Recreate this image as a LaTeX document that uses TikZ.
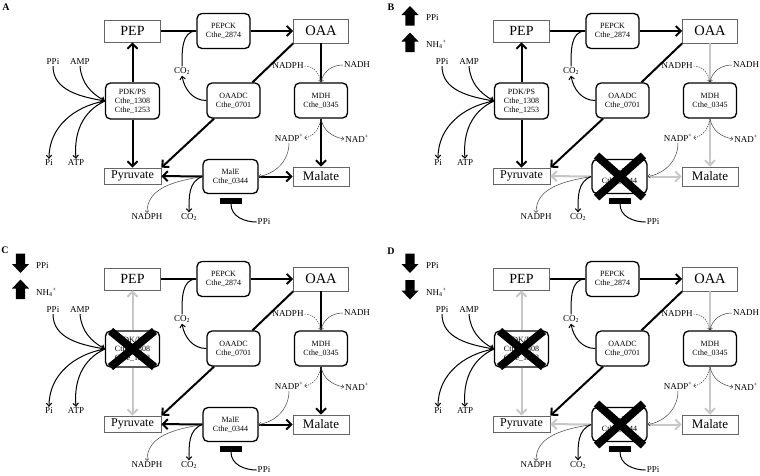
\documentclass[tikz,border=0pt]{standalone}
\usepackage{fontspec}
\setmainfont{Liberation Serif}
\usetikzlibrary{arrows.meta}

\tikzset{
  met/.style={draw=black!60, line width=0.7pt, inner sep=0pt, minimum width=56pt},
  enz/.style={draw, rounded corners=5pt, line width=1.3pt, align=center, inner sep=0pt,
    minimum width=53pt, minimum height=35pt, font=\fontsize{8}{9}\selectfont},
  lbl/.style={inner sep=1pt, font=\fontsize{9}{10}\selectfont},
  route/.style={line width=2pt, draw=#1},
  route/.default=black,
  flux/.style={route=#1, -{Straight Barb[length=5pt,width=10pt]}},
  flux/.default=black,
  side/.style={line width=1pt, -{Straight Barb[length=3pt,width=5.5pt]}},
  fine/.style={line width=0.5pt, draw=black!75, -{Straight Barb[length=2pt,width=4pt]}},
  dfine/.style={fine, dash pattern=on 1.5pt off 1pt},
  knock/.style={line width=8pt},
  bulk/.pic={\fill (-4.7,-10) -- (-4.7,0.5) -- (-8.5,0.5) -- (0,9.5) -- (8.5,0.5) -- (4.7,0.5) -- (4.7,-10) -- cycle;},
  panel/.style={font=\bfseries\fontsize{10}{10}\selectfont, inner sep=0pt}
}

% #1 PDK/PS route, #2 MDH route, #3 MalE route
\newcommand\pathway[3]{
  \node (pep) [met, minimum height=22pt, font=\fontsize{14}{14}\selectfont] at (132.5,-31) {PEP};
  \node (oaa) [met, minimum width=55pt, minimum height=24pt, font=\fontsize{14.5}{14}\selectfont] at (321,-31) {OAA};
  \node (pyr) [met, minimum width=57pt, minimum height=16pt, font=\fontsize{12}{12}\selectfont] at (132.5,-176) {Pyruvate};
  \node (mal) [met, minimum height=19pt, font=\fontsize{13}{13}\selectfont] at (321,-176.5) {Malate};
  \node (pepck) [enz] at (223.5,-31) {PEPCK\\Cthe\_2874};
  \node (pdk) [enz, minimum width=54pt, minimum height=36pt] at (132.5,-101) {PDK/PS\\Cthe\_1308\\Cthe\_1253};
  \node (oaadc) [enz] at (233.5,-100.5) {OAADC\\Cthe\_0701};
  \node (mdh) [enz] at (321,-100.5) {MDH\\Cthe\_0345};
  \node (male) [enz, minimum width=55pt, minimum height=34pt] at (230.5,-176.5) {MalE\\Cthe\_0344};
  \node (bar) [fill=black, minimum width=22pt, minimum height=6pt, inner sep=0pt] at (231,-201) {};
  \node (ppia) [lbl] at (53,-62) {PPi};
  \node (amp) [lbl] at (80,-62) {AMP};
  \node (pi) [lbl] at (49,-163) {Pi};
  \node (atp) [lbl] at (76,-163) {ATP};
  \node (co2a) [lbl] at (182,-71) {CO\textsubscript{2}};
  \node (nadpha) [lbl] at (288,-66) {NADPH};
  \node (nadh) [lbl] at (357,-65) {NADH};
  \node (nadp) [lbl] at (289,-138) {NADP\textsuperscript{+}};
  \node (nad) [lbl] at (357,-139) {NAD\textsuperscript{+}};
  \node (nadphb) [lbl] at (147,-217) {NADPH};
  \node (co2b) [lbl] at (189,-217) {CO\textsubscript{2}};
  \node (ppib) [lbl] at (264,-222) {PPi};
  \draw[flux=#1] (pdk) -- (pep);
  \draw[flux=#1] (pdk) -- (pyr);
  \draw[route] (pep) -- (pepck);
  \draw[flux] (pepck) -- (oaa);
  \draw[route] (oaa.south west) -- (oaadc);
  \draw[flux] (oaadc) -- (pyr.north east);
  \draw[route=#2] (oaa) -- (mdh);
  \draw[flux=#2] (mdh) -- (mal);
  \draw[flux=#3] (male) -- (pyr);
  \draw[flux=#3] (male) -- (mal);
  \draw[side] (ppia.south) to[out=-90, in=170] (pdk.west);
  \draw[side] (amp.south) to[out=-85, in=150] (pdk.west);
  \draw[side] (pdk.west) to[out=190, in=90] (pi.north);
  \draw[side] (pdk.west) to[out=205, in=95] (atp.north);
  \draw[line width=1pt] (co2a.north) to[out=90, in=180] (pepck.west);
  \draw[side] (oaadc.west) to[out=180, in=-80] (co2a.south);
  \draw[dfine] (nadpha.east) to[out=0, in=100] (mdh.north);
  \draw[fine] (nadh.west) to[out=180, in=80] (mdh.north);
  \draw[dfine] (mdh.south) to[out=-100, in=10] (nadp.east);
  \draw[fine] (mdh.south) to[out=-80, in=170] (nad.west);
  \draw[fine] (nadp.south) to[out=-90, in=10] (male.east);
  \draw[fine] (male.west) to[out=190, in=90] (nadphb.north);
  \draw[side] (male.west) to[out=200, in=90] (co2b.north);
  \draw[line width=1pt] (bar.south) to[out=-90, in=180] (ppib.west);
}

\begin{document}
\begin{tikzpicture}[x=1pt, y=1pt]
  \useasboundingbox (0,0) rectangle (760,-475);

  \node (lblA) [panel] at (6,-7) {A};
  \node (lblB) [panel] at (391,-7) {B};
  \node (lblC) [panel] at (5,-250) {C};
  \node (lblD) [panel] at (391,-251) {D};

  \begin{scope}[name prefix=A-]
    \pathway{black}{black}{black}
  \end{scope}

  \begin{scope}[shift={(389,0)}, name prefix=B-]
    \pathway{black}{black!22}{black!22}
    \draw[knock] ([shift={(-23,21)}]male.center) -- ([shift={(24,-21)}]male.center);
    \draw[knock] ([shift={(24,21)}]male.center) -- ([shift={(-23,-21)}]male.center);
    \pic (ppiarrow) at (21,-15.5) {bulk};
    \pic (nharrow) at (21,-42) {bulk};
    \node (ppiind) [lbl, anchor=west] at (36,-18) {PPi};
    \node (nhind) [lbl, anchor=west] at (36,-44) {NH\textsubscript{4}\textsuperscript{+}};
  \end{scope}

  \begin{scope}[shift={(0,-248)}, name prefix=C-]
    \pathway{black!22}{black}{black}
    \draw[knock] ([shift={(-22,18)}]pdk.center) -- ([shift={(22,-18)}]pdk.center);
    \draw[knock] ([shift={(22,18)}]pdk.center) -- ([shift={(-22,-18)}]pdk.center);
    \pic[rotate=180] (ppiarrow) at (20.5,-15.5) {bulk};
    \pic (nharrow) at (20.5,-41) {bulk};
    \node (ppiind) [lbl, anchor=west] at (35,-18) {PPi};
    \node (nhind) [lbl, anchor=west] at (35,-44) {NH\textsubscript{4}\textsuperscript{+}};
  \end{scope}

  \begin{scope}[shift={(389,-248)}, name prefix=D-]
    \pathway{black!22}{black!22}{black!22}
    \draw[knock] ([shift={(-22,18)}]pdk.center) -- ([shift={(22,-18)}]pdk.center);
    \draw[knock] ([shift={(22,18)}]pdk.center) -- ([shift={(-22,-18)}]pdk.center);
    \draw[knock] ([shift={(-23,21)}]male.center) -- ([shift={(24,-21)}]male.center);
    \draw[knock] ([shift={(24,21)}]male.center) -- ([shift={(-23,-21)}]male.center);
    \pic[rotate=180] (ppiarrow) at (21,-15.5) {bulk};
    \pic[rotate=180] (nharrow) at (21,-42) {bulk};
    \node (ppiind) [lbl, anchor=west] at (36,-18) {PPi};
    \node (nhind) [lbl, anchor=west] at (36,-44) {NH\textsubscript{4}\textsuperscript{+}};
  \end{scope}
\end{tikzpicture}
\end{document}
